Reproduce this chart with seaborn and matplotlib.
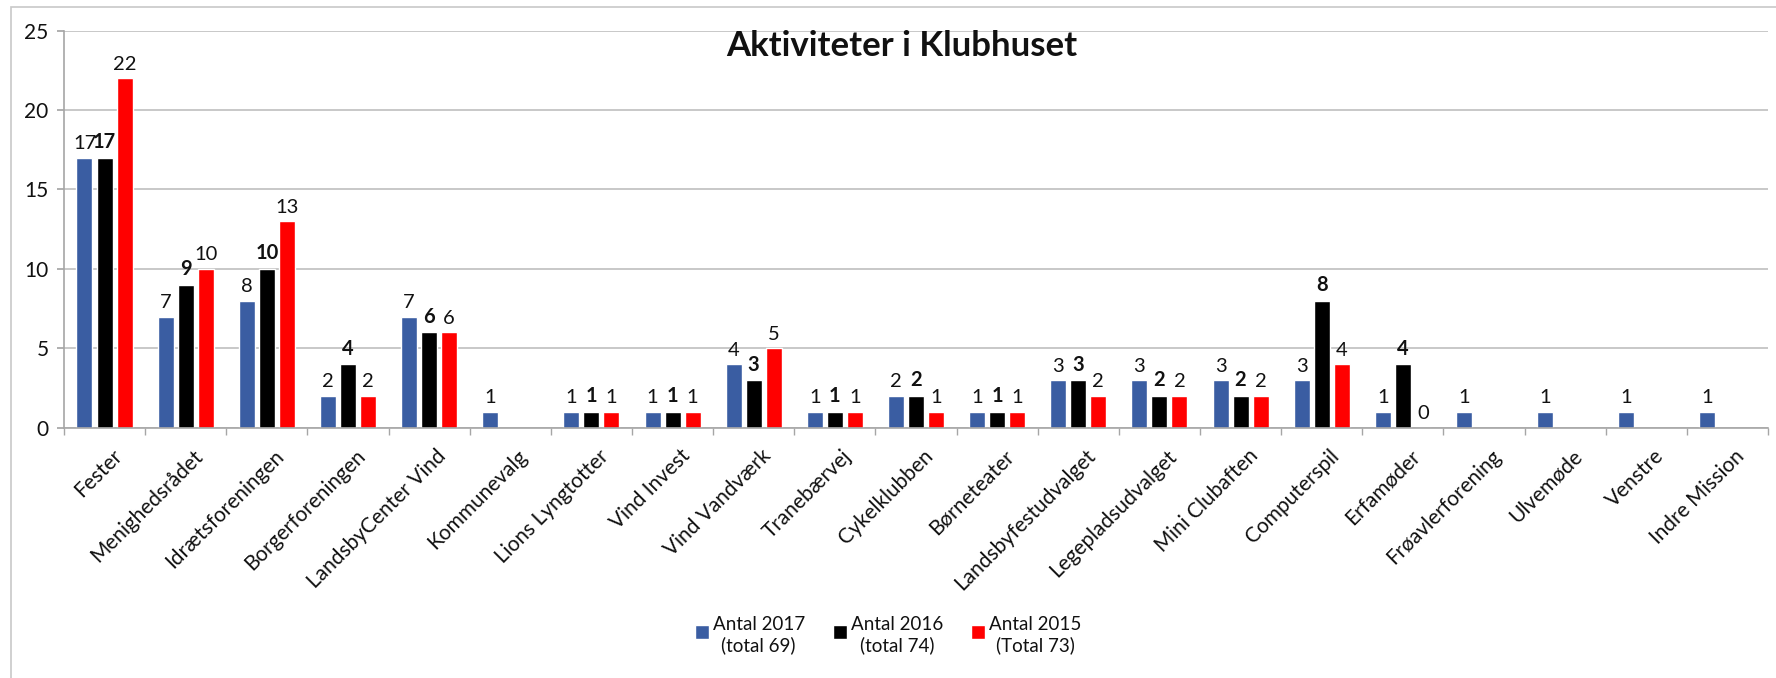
import matplotlib
matplotlib.use("Agg")
import matplotlib.pyplot as plt
import matplotlib.transforms as mtransforms
import numpy as np
import pandas as pd
import seaborn as sns
from matplotlib.legend_handler import HandlerPatch
from matplotlib.patches import Rectangle

categories = [
    "Fester", "Menighedsrådet", "Idrætsforeningen", "Borgerforeningen",
    "LandsbyCenter Vind", "Kommunevalg", "Lions Lyngtotter", "Vind Invest",
    "Vind Vandværk", "Tranebærvej", "Cykelklubben", "Børneteater",
    "Landsbyfestudvalget", "Legepladsudvalget", "Mini Clubaften",
    "Computerspil", "Erfamøder", "Frøavlerforening", "Ulvemøde", "Venstre",
    "Indre Mission",
]
antal_2017 = [17, 7, 8, 2, 7, 1, 1, 1, 4, 1, 2, 1, 3, 3, 3, 3, 1, 1, 1, 1, 1]
antal_2016 = [17, 9, 10, 4, 6, np.nan, 1, 1, 3, 1, 2, 1, 3, 2, 2, 8, 4,
              np.nan, np.nan, np.nan, np.nan]
antal_2015 = [22, 10, 13, 2, 6, np.nan, 1, 1, 5, 1, 1, 1, 2, 2, 2, 4, 0,
              np.nan, np.nan, np.nan, np.nan]
series_labels = ["Antal 2017\n(total 69)", "Antal 2016\n(total 74)",
                 "Antal 2015\n(Total 73)"]
series_colors = ["#3A5DA2", "#000000", "#FF0000"]

df = pd.DataFrame({
    "Aktivitet": categories,
    series_labels[0]: antal_2017,
    series_labels[1]: antal_2016,
    series_labels[2]: antal_2015,
})
long_df = df.melt(id_vars="Aktivitet", var_name="Serie", value_name="Antal").dropna()

sns.set_theme(style="white")
plt.rcParams["font.family"] = ["Lato", "DejaVu Sans"]

fig = plt.figure(figsize=(17.76, 6.78), dpi=100)
ax = fig.add_axes([0.036, 0.369, 0.9595, 0.586])

sns.barplot(
    data=long_df, x="Aktivitet", y="Antal", hue="Serie",
    order=categories, hue_order=series_labels, palette=series_colors,
    width=0.74, gap=0.2, saturation=1, errorbar=None, ax=ax,
)

for container, label in zip(ax.containers, series_labels):
    weight = "bold" if "2016" in label else "normal"
    ax.bar_label(container, fmt="%d", padding=4, fontsize=14.5,
                 color="#111111", weight=weight)

ax.set_ylim(0, 25)
ax.set_xlim(-0.5, len(categories) - 0.5)
ax.set_yticks(range(0, 26, 5))
ax.yaxis.grid(True, color="#C4C4C4", linewidth=1.3)
ax.set_axisbelow(True)
ax.set_xlabel("")
ax.set_ylabel("")
for side in ["top", "right"]:
    ax.spines[side].set_visible(False)
for side in ["left", "bottom"]:
    ax.spines[side].set_color("#A6A6A6")
    ax.spines[side].set_linewidth(1.2)

ax.tick_params(axis="y", length=5, color="#A6A6A6", labelsize=15,
               labelcolor="#111111", left=True, pad=6)
ax.tick_params(axis="x", which="major", length=0, pad=13)
ax.set_xticks(np.arange(-0.5, len(categories), 1.0), minor=True)
ax.tick_params(axis="x", which="minor", length=5, color="#A6A6A6", bottom=True)
shift = mtransforms.ScaledTranslation(0.07, 0, fig.dpi_scale_trans)
for tl in ax.get_xticklabels():
    tl.set_rotation(45)
    tl.set_ha("right")
    tl.set_rotation_mode("anchor")
    tl.set_fontsize(15)
    tl.set_color("#111111")
    tl.set_transform(tl.get_transform() + shift)


def top_square(legend, orig_handle, xdescent, ydescent, width, height, fontsize):
    # square next to the first line of the two-line label
    size = width
    return Rectangle((-xdescent, -ydescent + height - size * 1.25), size, size)


handles, labels = ax.get_legend_handles_labels()
ax.get_legend().remove()
leg = fig.legend(
    handles, labels, loc="center", bbox_to_anchor=(0.5, 0.063), ncol=3,
    frameon=False, fontsize=13.5, handlelength=0.75, handleheight=2.0,
    handletextpad=0.2, columnspacing=1.5,
    handler_map={h: HandlerPatch(patch_func=top_square) for h in handles},
)
for t in leg.get_texts():
    t.set_multialignment("center")
    t.set_color("#111111")

fig.text(0.508, 0.932, "Aktiviteter i Klubhuset", ha="center", va="center",
         fontsize=25, weight="bold", color="#111111")

fig.add_artist(Rectangle((11 / 1776, -0.1), 1.2, 1.1 - 7 / 678,
                         transform=fig.transFigure, fill=False,
                         edgecolor="#C8C8C8", linewidth=1.2))

fig.savefig("out.png", dpi=100, facecolor="white")
